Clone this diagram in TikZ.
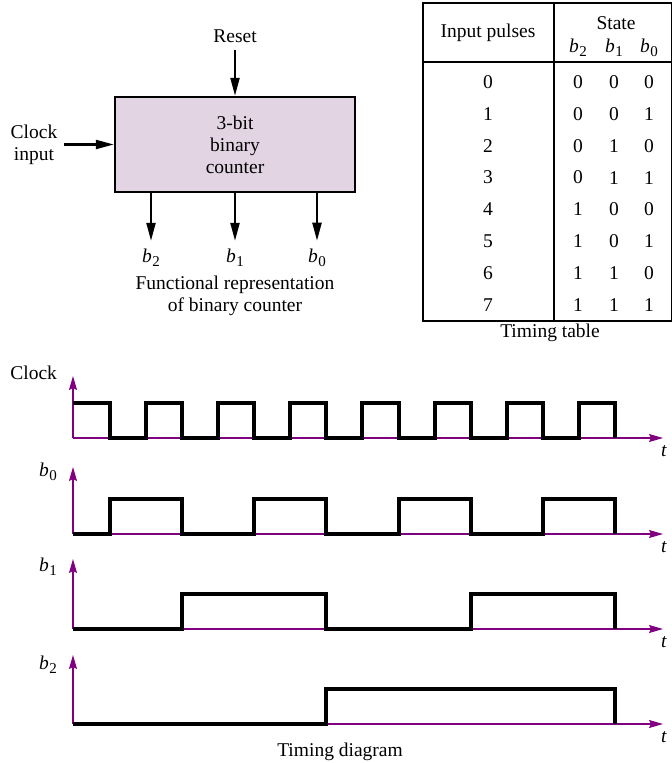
\documentclass[tikz,border=0pt]{standalone}
\usepackage{fontspec}
\setmainfont{Liberation Serif}
\usepackage{tikz}
\usetikzlibrary{
  arrows.meta,
  positioning
}
\definecolor{axispurple}{RGB}{128,0,128}
\definecolor{boxfill}{RGB}{226,212,227}
\newcommand{\bsub}[1]{\textit{b}\kern0.03em\raisebox{-0.45ex}{\fontsize{7.5}{8}\selectfont #1}}

\begin{document}
\begin{tikzpicture}[x=0.5pt,y=-0.5pt,
    font=\fontsize{9.75}{11}\selectfont,
    sig/.style={line width=1.1pt,-{Triangle[length=9pt,width=4.5pt]}},
    tline/.style={line width=1pt},
    axis/.style={axispurple,line width=0.65pt,-{Stealth[length=7pt,width=4pt,inset=1pt]}},
    wave/.style={line width=2pt}]
  \useasboundingbox (0,0) rectangle (672,763);

  % block diagram
  \node[draw,line width=1.2pt,fill=boxfill,minimum width=120pt,minimum height=47.5pt,align=center]
    (cnt) at (235,144.5) {3-bit\\binary\\counter};
  \node (rst) at (235,36) {Reset};
  \node[align=center] (clk) at (34,144.5) {Clock\\input};
  \draw[sig] (rst) -- (cnt);
  \draw[sig] (clk) -- (cnt);
  \node[inner sep=4pt] (ob2) at (151,258) {\bsub{2}};
  \node[inner sep=4pt] (ob1) at (235,258) {\bsub{1}};
  \node[inner sep=4pt] (ob0) at (317,258) {\bsub{0}};
  \draw[sig] (cnt.south -| ob2) -- (ob2);
  \draw[sig] (cnt.south -| ob1) -- (ob1);
  \draw[sig] (cnt.south -| ob0) -- (ob0);
  \node[align=center] (fun) at (235,296) {Functional representation\\of binary counter};

  % timing table
  \draw[tline] (423,3) rectangle (672,321);
  \draw[tline] (554,3) -- (554,321);
  \draw[tline] (423,62) -- (672,62);
  \node (hin) at (488,33) {Input pulses};
  \node (hst) at (616,23) {State};
  \node (hb2) at (578,48) {\bsub{2}};
  \node (hb1) at (614,48) {\bsub{1}};
  \node (hb0) at (649,48) {\bsub{0}};
  \foreach \n/\p/\q/\r in {0/0/0/0,1/0/0/1,2/0/1/0,3/0/1/1,4/1/0/0,5/1/0/1,6/1/1/0,7/1/1/1} {
    \node (p\n) at (488,{82+31.86*\n}) {\n};
    \node (s\n-2) at (578,{82+31.86*\n}) {\p};
    \node (s\n-1) at (614,{82+31.86*\n}) {\q};
    \node (s\n-0) at (649,{82+31.86*\n}) {\r};
  }
  \node (ttab) at (550,333) {Timing table};

  % timing diagram axes
  \foreach \r/\y/\h/\ly/\lab in {c/438/62/373/Clock,z/534/67/472/{\bsub{0}},o/629/70/567/{\bsub{1}},w/724/69/665/{\bsub{2}}} {
    \coordinate (o\r) at (73,\y);
    \coordinate (top\r) at (73,{\y-\h});
    \coordinate (end\r) at (663,\y);
    \draw[axis] (o\r) -- (top\r);
    \draw[axis] (o\r) -- (end\r);
    \node (t\r) at (664,{\y+13.5}) {\textit{t}};
    \node[anchor=east] (l\r) at (64,\ly) {\lab};
  }

  % waveforms
  \draw[wave] (73,402.5) \foreach \j in {0,...,6} { -| ({110+72.14*\j},438) -| ({146.07+72.14*\j},402.5) } -| (614.98,438);
  \draw[wave] (73,534) \foreach \j in {0,...,3} { -| ({110+144.28*\j},498.5) -| ({182.14+144.28*\j},534) };
  \draw[wave] (73,629) \foreach \j in {0,1} { -| ({182.14+288.56*\j},593.5) -| ({326.42+288.56*\j},629) };
  \draw[wave] (73,724) -| (326.42,688.5) -| (614.98,724);

  \node (tdia) at (340,752) {Timing diagram};
\end{tikzpicture}
\end{document}
